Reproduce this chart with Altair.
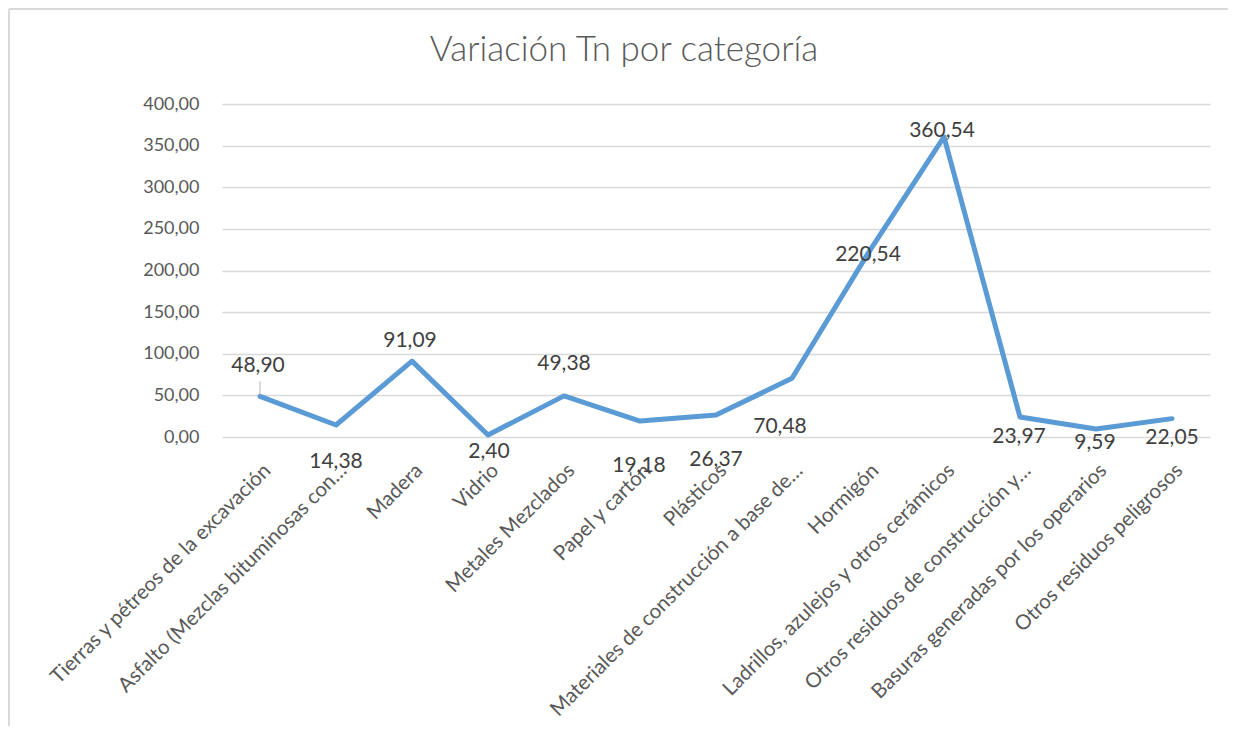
import altair as alt
import pandas as pd

categories = [
    "Tierras y pétreos de la excavación",
    "Asfalto (Mezclas bituminosas con…",
    "Madera",
    "Vidrio",
    "Metales Mezclados",
    "Papel y cartón",
    "Plásticos",
    "Materiales de construcción a base de…",
    "Hormigón",
    "Ladrillos, azulejos y otros cerámicos",
    "Otros residuos de construcción y…",
    "Basuras generadas por los operarios",
    "Otros residuos peligrosos",
]
values = [48.90, 14.38, 91.09, 2.40, 49.38, 19.18, 26.37, 70.48, 220.54, 360.54, 23.97, 9.59, 22.05]
y_ticks = [0, 50, 100, 150, 200, 250, 300, 350, 400]
title_text = "Variación Tn por categoría"

# label offsets (pixels) mimicking the reference's label placement
label_dx = [-2, 0, -2, 1, 0, -1, 0, -12, 0, -2, -1, -1, 0]
label_dy = [-30, 37, -20, 17, -32, 45, 45, 49, 2, -6, 20, 14, 19]

df = pd.DataFrame({"cat": categories, "val": values, "order": list(range(len(categories)))})

FONT = "Lato"
W, H = 988, 333

x_enc = alt.X("cat:N", sort=categories, title=None,
              scale=alt.Scale(type="point", padding=0.5),
              axis=alt.Axis(labelAngle=-45, labelFontSize=20.5, labelColor="#595959",
                            labelFont=FONT, labelPadding=23, ticks=False, domain=False,
                            grid=False, labelLimit=500, labelOverlap=False))
y_enc = alt.Y("val:Q", title=None,
              scale=alt.Scale(domain=[0, 400], nice=False),
              axis=alt.Axis(values=y_ticks, labelExpr="replace(format(datum.value, '.2f'), '.', ',')",
                            labelFontSize=18, labelColor="#595959", labelFont=FONT,
                            labelPadding=23, ticks=False, domain=False,
                            gridColor="#D9D9D9", gridWidth=1.5))

base = alt.Chart(df)

line = base.mark_line(color="#5B9BD5", strokeWidth=5, strokeJoin="round", strokeCap="round").encode(
    x=x_enc, y=y_enc, order="order:Q")

leader = base.transform_filter(alt.datum.order == 0).mark_tick(
    orient="vertical", size=14, thickness=1.2, color="#A6A6A6", yOffset=-8
).encode(x=alt.X("cat:N", sort=categories), y=alt.Y("val:Q"))

texts = []
for i, c in enumerate(categories):
    t = base.transform_filter(alt.datum.order == i).transform_calculate(
        lab="replace(format(datum.val, '.2f'), '.', ',')"
    ).mark_text(font=FONT, fontSize=21, color="#404040", dx=label_dx[i], dy=label_dy[i],
                baseline="middle", align="center").encode(
        x=alt.X("cat:N", sort=categories), y=alt.Y("val:Q"), text="lab:N")
    texts.append(t)

single = alt.Data(values=[{"t": title_text}])

frame_top = alt.Chart(single).mark_rule(color="#D9D9D9", strokeWidth=2, clip=False).encode(
    x=alt.value(-213), x2=alt.value(1010), y=alt.value(-95))
frame_left = alt.Chart(single).mark_rule(color="#D9D9D9", strokeWidth=2, clip=False).encode(
    x=alt.value(-213), y=alt.value(-95), y2=alt.value(640))

title = alt.Chart(single).mark_text(
    font=FONT, fontSize=35, fontWeight=300, color="#595959", align="center",
    baseline="alphabetic", clip=False
).encode(x=alt.value(402), y=alt.value(-43), text="t:N")

chart = alt.layer(frame_top, frame_left, title, line, leader, *texts).properties(
    width=W, height=H,
    autosize=alt.AutoSizeParams(type="none"),
    padding={"left": 214, "top": 96, "right": 18, "bottom": 289},
    background="white",
).configure_view(stroke=None)

chart.save("out.html", embed_options={"renderer": "svg", "actions": False})
